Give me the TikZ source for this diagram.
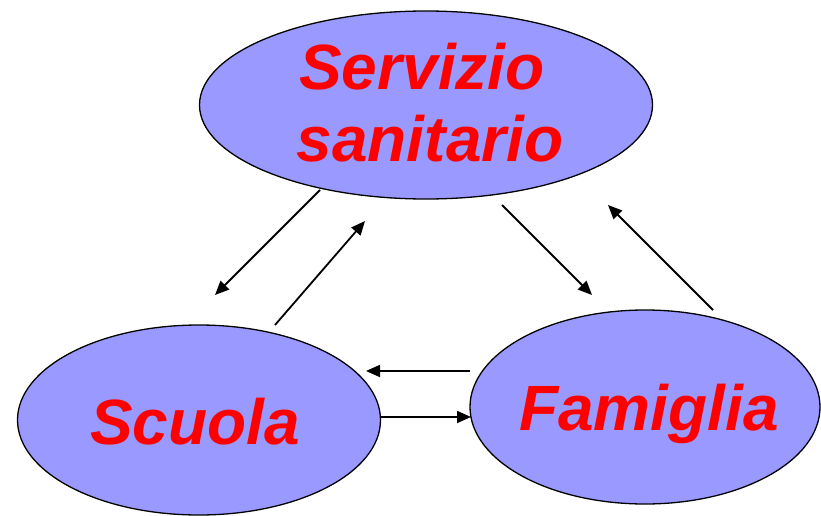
\documentclass[tikz,border=0pt]{standalone}
\usepackage{fontspec}
\setmainfont{Liberation Sans}
\usetikzlibrary{shapes.geometric,arrows.meta}
\definecolor{blobfill}{HTML}{9999FF}
\definecolor{txtred}{HTML}{FF0000}
\tikzset{
  blob/.style={ellipse, draw=black, line width=1.3pt, fill=blobfill, inner sep=0pt},
  lbl/.style={text=txtred, font=\fontsize{64}{70}\selectfont\bfseries\itshape, inner sep=0pt},
  conn/.style={line width=1.8pt, -{Triangle[length=14pt,width=12pt]}}
}
\begin{document}
\begin{tikzpicture}[x=1pt,y=-1pt]
\useasboundingbox (0,0) rectangle (821,516);
\node[blob, minimum width=453pt, minimum height=188pt] (ss) at (426,105) {};
\node[blob, minimum width=363pt, minimum height=190pt] (sc) at (199,420) {};
\node[blob, minimum width=350pt, minimum height=194pt] (fa) at (645,407) {};
\node[lbl, anchor=base] (t1) at (422,90) {Servizio};
\node[lbl, anchor=base] (t2) at (430,161) {sanitario};
\node[lbl, anchor=base] (t3) at (195,444) {Scuola};
\node[lbl, anchor=base] (t4) at (649,430) {Famiglia};
\coordinate (a1s) at (320,190); \coordinate (a1e) at (215,295);
\coordinate (a2s) at (275,325); \coordinate (a2e) at (365,221);
\coordinate (a3s) at (502,205); \coordinate (a3e) at (592,295);
\coordinate (a4s) at (713,310); \coordinate (a4e) at (608,205);
\coordinate (a5s) at (470,371); \coordinate (a5e) at (366,371);
\coordinate (a6s) at (381,417); \coordinate (a6e) at (471,417);
\draw[conn] (a1s) -- (a1e);
\draw[conn] (a2s) -- (a2e);
\draw[conn] (a3s) -- (a3e);
\draw[conn] (a4s) -- (a4e);
\draw[conn] (a5s) -- (a5e);
\draw[conn] (a6s) -- (a6e);
\end{tikzpicture}
\end{document}
